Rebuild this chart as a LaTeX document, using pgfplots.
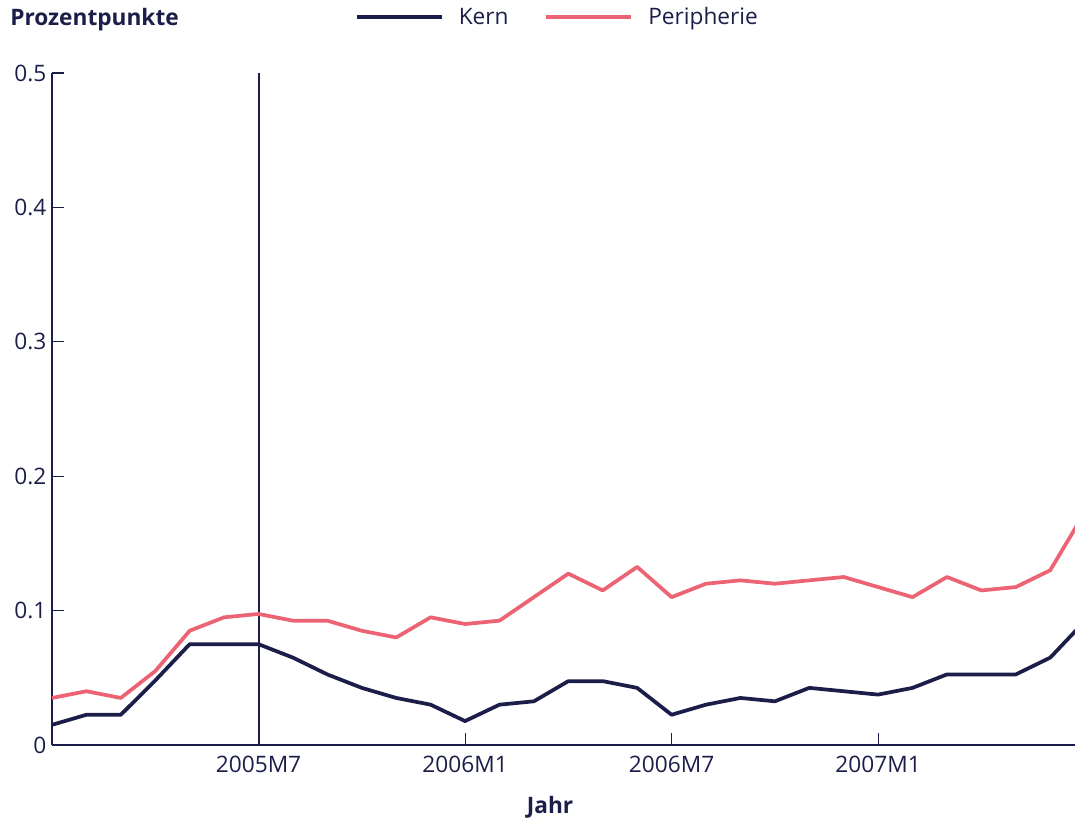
\documentclass[border=0pt]{standalone}
\usepackage{pgfplots}
\pgfplotsset{compat=1.18}
\usepackage{fontspec}
\setmainfont{Open Sans}
\definecolor{navy}{HTML}{1C1E4A}
\definecolor{rosa}{HTML}{EC6473}

\begin{document}
\begin{tikzpicture}[font=\fontsize{17}{20}\selectfont, text=navy]
\begin{axis}[
  scale only axis,
  width=767.25pt, height=504pt,
  xmin=0, xmax=29.72,
  ymin=0, ymax=0.5,
  axis lines*=left,
  axis line style={navy, line width=0.8pt},
  tick align=inside,
  major tick length=8.75pt,
  tick style={navy, line width=0.8pt},
  xtick={6,12,18,24},
  xticklabels={2005M7,2006M1,2006M7,2007M1},
  ytick={0,0.1,0.2,0.3,0.4,0.5},
  yticklabels={0,0.1,0.2,0.3,0.4,0.5},
  xticklabel style={inner sep=0pt, anchor=north, yshift=-8pt},
  yticklabel style={inner sep=0pt, anchor=east, xshift=-4pt},
  xlabel={\bfseries Jahr},
  xlabel style={at={(rel axis cs:0.4868,0)}, anchor=base, yshift=-51.5pt, inner sep=0pt},
  legend style={draw=none, fill=none, at={(rel axis cs:0.2962,1.0833)}, anchor=west,
    legend columns=-1, inner sep=0pt, outer sep=0pt,
    nodes={inner sep=0pt, text=navy},
    /tikz/every odd column/.append style={column sep=11.25pt},
    /tikz/every even column/.append style={column sep=27pt}},
  legend image code/.code={\draw[#1] (0pt,0pt) -- (63.75pt,0pt);},
  line join=round,
]
\addplot[navy, line width=1.5pt, forget plot] coordinates {(6,0) (6,0.5)};

\addplot[navy, line width=2.8pt] coordinates {
  (0,0.015) (1,0.0225) (2,0.0225) (3,0.048) (4,0.075) (5,0.075) (6,0.075)
  (7,0.065) (8,0.0525) (9,0.0425) (10,0.035) (11,0.03) (12,0.0178) (13,0.03)
  (14,0.0325) (15,0.0475) (16,0.0475) (17,0.0425) (18,0.0225) (19,0.03)
  (20,0.035) (21,0.0325) (22,0.0425) (23,0.04) (24,0.0375) (25,0.0425)
  (26,0.0525) (27,0.0525) (28,0.0525) (29,0.065) (30,0.092)
};
\addlegendentry{Kern}

\addplot[rosa, line width=2.8pt] coordinates {
  (0,0.035) (1,0.04) (2,0.035) (3,0.055) (4,0.085) (5,0.095) (6,0.0975)
  (7,0.0925) (8,0.0925) (9,0.085) (10,0.08) (11,0.095) (12,0.09) (13,0.0925)
  (14,0.11) (15,0.1275) (16,0.115) (17,0.1325) (18,0.11) (19,0.12)
  (20,0.1225) (21,0.12) (22,0.1225) (23,0.125) (24,0.1175) (25,0.11)
  (26,0.125) (27,0.115) (28,0.1175) (29,0.13) (30,0.173)
};
\addlegendentry{Peripherie}
\end{axis}
\node[anchor=base west, inner sep=0pt, font=\fontsize{17}{20}\selectfont\bfseries] at (-31.5pt,539.25pt) {Prozentpunkte};
\pgfresetboundingbox
\path (-39pt,-56.25pt) rectangle (767.25pt,558.75pt);
\end{tikzpicture}
\end{document}
